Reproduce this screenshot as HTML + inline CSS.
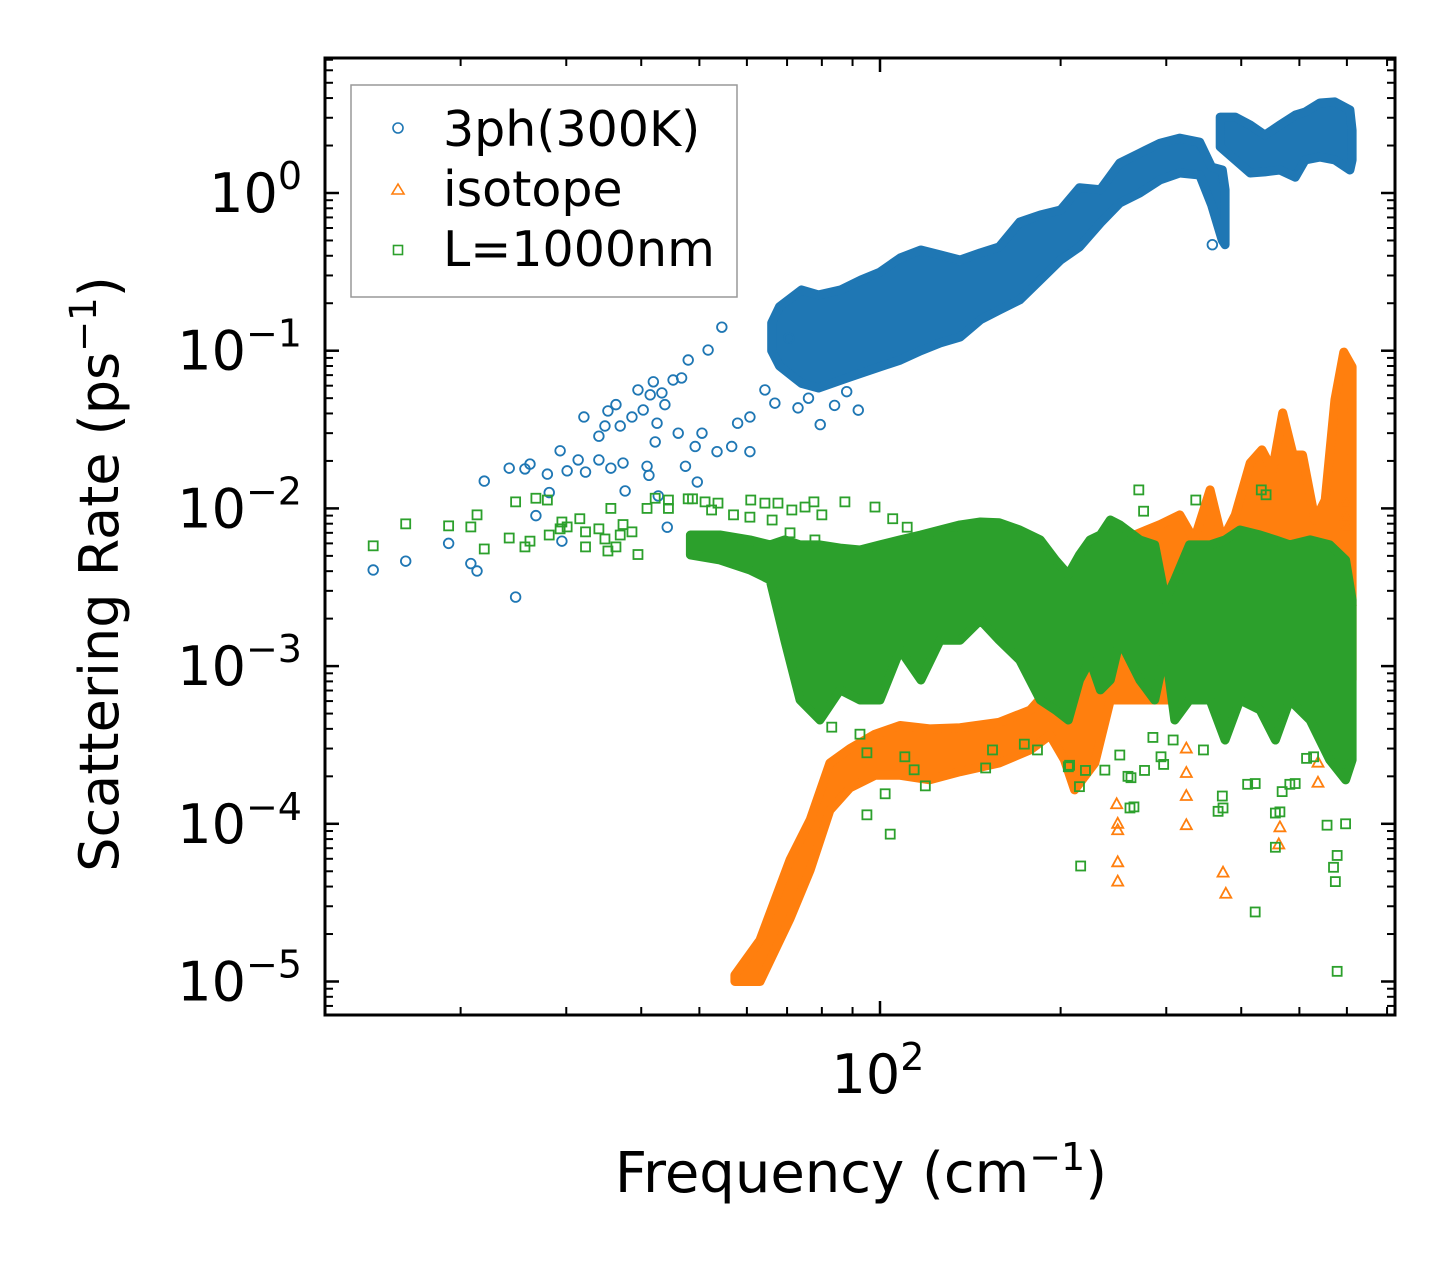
<!DOCTYPE html>
<html><head><meta charset="utf-8"><style>
html,body{margin:0;padding:0;background:#fff;}
svg{display:block;font-family:"DejaVu Sans","Liberation Sans",sans-serif;}
</style></head><body>
<svg id="chart" width="1455" height="1265" viewBox="0 0 1455 1265" xmlns="http://www.w3.org/2000/svg">
<rect width="1455" height="1265" fill="#fff"/>
<g id="marks"></g>
<g id="axes"></g>
<g>
<rect x="351" y="85" width="386" height="212" fill="#fff" fill-opacity="0.8" stroke="#999" stroke-width="1.5"/>
<circle cx="398" cy="128" r="5" fill="none" stroke="#1f77b4" stroke-width="1.6"/>
<text x="443" y="146" font-size="49" fill="#000">3ph(300K)</text>
<polygon points="398,184 404,194 392,194" fill="none" stroke="#ff7f0e" stroke-width="1.6"/>
<text x="443" y="206" font-size="49" fill="#000">isotope</text>
<rect x="393.5" y="245.5" width="9" height="9" fill="none" stroke="#2ca02c" stroke-width="1.6"/>
<text x="443" y="266" font-size="49" fill="#000">L=1000nm</text>
</g>
<text x="861" y="1192" font-size="56" text-anchor="middle">Frequency (cm<tspan font-size="38" dy="-22">−1</tspan><tspan dy="22">)</tspan></text>
<text transform="translate(118,574) rotate(-90)" font-size="54" text-anchor="middle">Scattering Rate (ps<tspan font-size="37" dy="-22">−1</tspan><tspan dy="22">)</tspan></text>
</svg>
<script>
// ---- data ----
const blueFreq = [14.3,16.2,19.1,20.8,21.3,24.7,21.9,24.1,25.6,26.1,27.9,28.1,26.7,29.5,29.3,30.1,31.4,32.3,34.0,35.6,37.3,37.6,40.9,41.2,42.7,44.2,47.4,49.6,32.1,34.8,34.0,35.2,36.3,36.9,38.6,39.5,40.3,41.4,41.9,42.5,42.2,43.3,43.8,46.1,45.2,46.7,49.2,50.5,53.5,56.6,60.7,57.9,60.7,47.9,51.7,54.5,73.0,66.8,64.3,358,70.5,76.0,79.5,84.0,88.0,92.0];
const blueRate = [0.00407,0.00463,0.0060,0.00447,0.00401,0.00274,0.0149,0.0180,0.0178,0.0191,0.0165,0.0126,0.0090,0.0062,0.0232,0.0173,0.0203,0.0170,0.0203,0.0180,0.0194,0.0129,0.0185,0.0162,0.0120,0.0076,0.0185,0.0147,0.0380,0.0333,0.0287,0.0415,0.0455,0.0333,0.0380,0.0564,0.0421,0.0525,0.0635,0.0347,0.0264,0.054,0.0455,0.0300,0.0652,0.0672,0.0247,0.0300,0.0229,0.0247,0.0229,0.0347,0.0380,0.0873,0.101,0.141,0.0434,0.0465,0.0564,0.47,0.12,0.05,0.034,0.045,0.055,0.042];
const blueBandFreq = [66,68,74,79,86,93,100,108,117,126,136,147,158,171,185,200,215,233,251,271,293,316,341,357,372,376];
const blueBandHi = [0.15,0.19,0.243,0.226,0.243,0.281,0.315,0.387,0.435,0.405,0.376,0.417,0.455,0.655,0.725,0.78,1.08,1.05,1.55,1.79,2.07,2.23,2.10,1.46,1.40,1.05];
const blueBandLo = [0.10,0.080,0.062,0.058,0.065,0.072,0.079,0.087,0.10,0.112,0.122,0.157,0.181,0.21,0.281,0.376,0.455,0.645,0.864,1.0,1.21,1.34,1.30,0.84,0.50,0.47];
const blueBand2Freq = [369,391,414,438,464,492,511,541,573,607,612];
const blueBand2Hi = [3.03,3.03,2.7,2.33,2.7,3.12,3.26,3.72,3.78,3.36,2.5];
const blueBand2Lo = [1.96,1.62,1.34,1.36,1.40,1.26,1.62,1.69,1.62,1.40,1.62];

const orangeFreq = [249,249,249,249,248,324,324,324,324,373,377,464,462,537,537,597,597,599,601,601,607];
const orangeRate = [5.7e-5,4.3e-5,9.1e-5,1.0e-4,1.33e-4,9.8e-5,1.5e-4,2.1e-4,3.0e-4,4.9e-5,3.6e-5,9.5e-5,7.4e-5,2.44e-4,1.82e-4,0.0108,0.0088,0.0076,0.0045,0.0041,0.0026];
const orangeBandFreq = [57.3,63.1,70.8,76.5,82.5,89.1,98.1,108,121,136,158,178,192,203,211,228,242,251,261,293,316,334,355,372,391,414,433,451,469,488,506,531,552,573,593,612];
const orangeBandHi = [1.1e-5,1.83e-5,5.9e-5,1.06e-4,2.43e-4,3.0e-4,3.7e-4,4.2e-4,4.0e-4,4.07e-4,4.4e-4,5.27e-4,7.3e-4,9.8e-4,1.09e-3,1.46e-3,2.63e-3,4.4e-3,6.6e-3,7.9e-3,9.1e-3,6.3e-3,0.0131,6.3e-3,9.1e-3,0.0194,0.0235,0.0175,0.0403,0.0218,0.0218,8.4e-3,0.0113,0.0487,0.098,0.079];
const orangeBandLo = [1.0e-5,1.0e-5,2.5e-5,5.1e-5,1.22e-4,1.69e-4,2.03e-4,2.03e-4,1.9e-4,2.14e-4,2.43e-4,2.94e-4,3.65e-4,2.54e-4,1.64e-4,2.43e-4,6.1e-4,6.1e-4,6.1e-4,6.1e-4,6.1e-4,6.1e-4,6.1e-4,7.06e-4,6.1e-4,6.1e-4,6.1e-4,6.1e-4,6.1e-4,6.1e-4,6.1e-4,6.1e-4,6.1e-4,6.1e-4,6.1e-4,8.2e-4];

const greenFreq = [14.3,16.2,19.1,20.8,21.3,21.9,24.1,24.7,25.6,26.1,26.7,27.9,28.1,29.3,29.5,30.1,31.6,32.3,32.3,34.0,34.8,35.2,35.6,36.3,36.9,37.3,38.6,39.5,40.9,42.2,44.4,44.4,47.9,48.7,51.1,52.4,53.7,57.0,60.9,60.7,64.3,66.1,67.6,71.3,75.0,80.0,70.8,77.9,77.6,87.4,98.1,105,111,133,270,275,336,432,440,
83.1,92.6,95.1,102,95.1,104,119,110,114,150,154,174,183,216,206,220,261,259,294,346,366,422,410,456,456,482,578,578,570,574,556,528,265,262,276,297,308,285,464,468,422,492,514,597,373,372,207,215,251,237];
const greenRate = [0.00579,0.00798,0.00775,0.00763,0.0091,0.00553,0.00649,0.0110,0.0057,0.0062,0.0116,0.0113,0.00678,0.00742,0.0082,0.00763,0.0086,0.0071,0.0057,0.00742,0.0064,0.00537,0.0100,0.0057,0.00678,0.0079,0.0071,0.0051,0.0100,0.0116,0.0113,0.0100,0.0115,0.0115,0.0110,0.00977,0.0108,0.0091,0.0113,0.0088,0.0108,0.00844,0.0108,0.00977,0.0102,0.0091,0.0070,0.00631,0.0110,0.0110,0.0102,0.0086,0.0076,0.0068,0.0131,0.0096,0.0113,0.0131,0.0122,
4.1e-4,3.7e-4,2.82e-4,1.55e-4,1.14e-4,8.6e-5,1.74e-4,2.66e-4,2.2e-4,2.26e-4,2.94e-4,3.2e-4,2.94e-4,5.4e-5,2.3e-4,2.18e-4,1.26e-4,2.0e-4,2.66e-4,2.94e-4,1.2e-4,2.76e-5,1.78e-4,7.1e-5,1.17e-4,1.78e-4,1.16e-5,6.3e-5,5.3e-5,4.3e-5,9.8e-5,2.66e-4,1.28e-4,1.96e-4,2.18e-4,2.38e-4,3.4e-4,3.53e-4,1.19e-4,1.6e-4,1.8e-4,1.8e-4,2.6e-4,1.0e-4,1.26e-4,1.5e-4,2.35e-4,1.72e-4,2.73e-4,2.19e-4];
const greenBandFreq = [48.3,54.1,60.7,65.6,69.4,73.6,79.4,85.8,92.6,100,108,117,126,136,147,158,171,185,196,206,215,224,233,242,251,271,287,299,310,328,355,376,398,430,456,482,521,562,597,612];
const greenBandHi = [0.00678,0.00678,0.00631,0.00587,0.00631,0.00587,0.00587,0.0056,0.00545,0.00587,0.00631,0.00678,0.0073,0.00786,0.0082,0.0081,0.0073,0.00631,0.00471,0.0038,0.00507,0.00631,0.00678,0.00844,0.00786,0.00631,0.00587,0.00263,0.00352,0.00587,0.00587,0.00631,0.0073,0.00678,0.00631,0.00587,0.00631,0.00587,0.00471,0.00263];
const greenBandLo = [0.00507,0.00471,0.00407,0.00352,0.00146,6.1e-4,4.55e-4,7.06e-4,6.1e-4,6.1e-4,1.27e-3,8.16e-4,1.46e-3,1.46e-3,1.96e-3,1.46e-3,1.09e-3,6.1e-4,5.27e-4,4.55e-4,8.16e-4,1.09e-3,7.06e-4,8.16e-4,1.46e-3,8.16e-4,6.1e-4,1.27e-3,4.55e-4,6.1e-4,6.1e-4,3.4e-4,6.1e-4,5.27e-4,3.4e-4,6.1e-4,4.55e-4,2.54e-4,1.9e-4,2.54e-4];

const yTickExps = [0,-1,-2,-3,-4,-5];
const xTickExps = [2];

// ---- axes functions ----
const PL=325, PR=1395, PT=58, PB=1015;
const X100=880, XDEC=600, Y1=193, YDEC=157.7;
function xs(f){ return X100 + (Math.log10(f)-2)*XDEC; }
function ys(r){ return Y1 - Math.log10(r)*YDEC; }

const NS="http://www.w3.org/2000/svg";
const marks=document.getElementById('marks');
const axes=document.getElementById('axes');
function mk(tag, attrs, parent){
  const e=document.createElementNS(NS,tag);
  for(const k in attrs) e.setAttribute(k, attrs[k]);
  parent.appendChild(e); return e;
}
const BLUE="#1f77b4", ORANGE="#ff7f0e", GREEN="#2ca02c";

function band(freqs, lo, hi, color, name){
  const pts=[];
  for(let i=0;i<freqs.length;i++) pts.push(xs(freqs[i]).toFixed(1)+','+ys(hi[i]).toFixed(1));
  for(let i=freqs.length-1;i>=0;i--) pts.push(xs(freqs[i]).toFixed(1)+','+ys(lo[i]).toFixed(1));
  const p=mk('polygon',{points:pts.join(' '),fill:color,stroke:color,'stroke-width':9,'stroke-linejoin':'round'},marks);
  
  
}
function circles(f, r, name){
  for(let i=0;i<f.length;i++){
    const c=mk('circle',{cx:xs(f[i]),cy:ys(r[i]),r:4.8,fill:'none',stroke:BLUE,'stroke-width':1.8},marks);
    
    
  }
}
function tris(f, r, name){
  for(let i=0;i<f.length;i++){
    const x=xs(f[i]), y=ys(r[i]);
    const t=mk('polygon',{points:`${x},${y-6} ${x+5.5},${y+4} ${x-5.5},${y+4}`,fill:'none',stroke:ORANGE,'stroke-width':1.8},marks);
    
    
  }
}
function squares(f, r, name){
  for(let i=0;i<f.length;i++){
    const x=xs(f[i]), y=ys(r[i]);
    const s=mk('rect',{x:x-4.5,y:y-4.5,width:9,height:9,fill:'none',stroke:GREEN,'stroke-width':1.8},marks);
    
    
  }
}

band(blueBandFreq, blueBandLo, blueBandHi, BLUE, 'band-3ph-main');
band(blueBand2Freq, blueBand2Lo, blueBand2Hi, BLUE, 'band-3ph-high');
circles(blueFreq, blueRate, 'point-3ph');
band(orangeBandFreq, orangeBandLo, orangeBandHi, ORANGE, 'band-isotope');
tris(orangeFreq, orangeRate, 'point-isotope');
band(greenBandFreq, greenBandLo, greenBandHi, GREEN, 'band-boundary');
squares(greenFreq, greenRate, 'point-boundary');

// frame
const fr=mk('rect',{x:PL,y:PT,width:PR-PL,height:PB-PT,fill:'none',stroke:'#000','stroke-width':3},axes);



// y ticks
for(let d=-6; d<=1; d++){
  for(let m=1;m<=9;m++){
    const v=m*Math.pow(10,d);
    const y=ys(v);
    if(y<PT+1||y>PB-1) continue;
    const L = m===1?14:8, w = m===1?2.5:2;
    const a=mk('line',{x1:PL,x2:PL+L,y1:y,y2:y,stroke:'#000','stroke-width':w},axes);
    
    
    const b=mk('line',{x1:PR,x2:PR-L,y1:y,y2:y,stroke:'#000','stroke-width':w},axes);
    
    
  }
}
for(const e of yTickExps){
  const y=ys(Math.pow(10,e));
  const t=mk('text',{x:302,y:y+19,'font-size':54,'text-anchor':'end'},axes);
  
  
  const base=document.createElementNS(NS,'tspan'); base.textContent='10'; t.appendChild(base);
  const sup=document.createElementNS(NS,'tspan'); sup.setAttribute('font-size','38'); sup.setAttribute('dy','-23');
  sup.textContent = e===0 ? '0' : '−'+(-e); t.appendChild(sup);
}
// x ticks
for(let d=1; d<=2; d++){
  for(let m=1;m<=9;m++){
    const v=m*Math.pow(10,d);
    const x=xs(v);
    if(x<PL+1||x>PR-1) continue;
    const L = m===1?14:8, w = m===1?2.5:2;
    const a=mk('line',{x1:x,x2:x,y1:PB,y2:PB-L,stroke:'#000','stroke-width':w},axes);
    
    
    const b=mk('line',{x1:x,x2:x,y1:PT,y2:PT+L,stroke:'#000','stroke-width':w},axes);
    
    
  }
}
for(const e of xTickExps){
  const x=xs(Math.pow(10,e));
  const t=mk('text',{x:x-2,y:1093,'font-size':54,'text-anchor':'middle'},axes);
  
  
  const base=document.createElementNS(NS,'tspan'); base.textContent='10'; t.appendChild(base);
  const sup=document.createElementNS(NS,'tspan'); sup.setAttribute('font-size','38'); sup.setAttribute('dy','-23');
  sup.textContent=String(e); t.appendChild(sup);
}
</script>
</body></html>
